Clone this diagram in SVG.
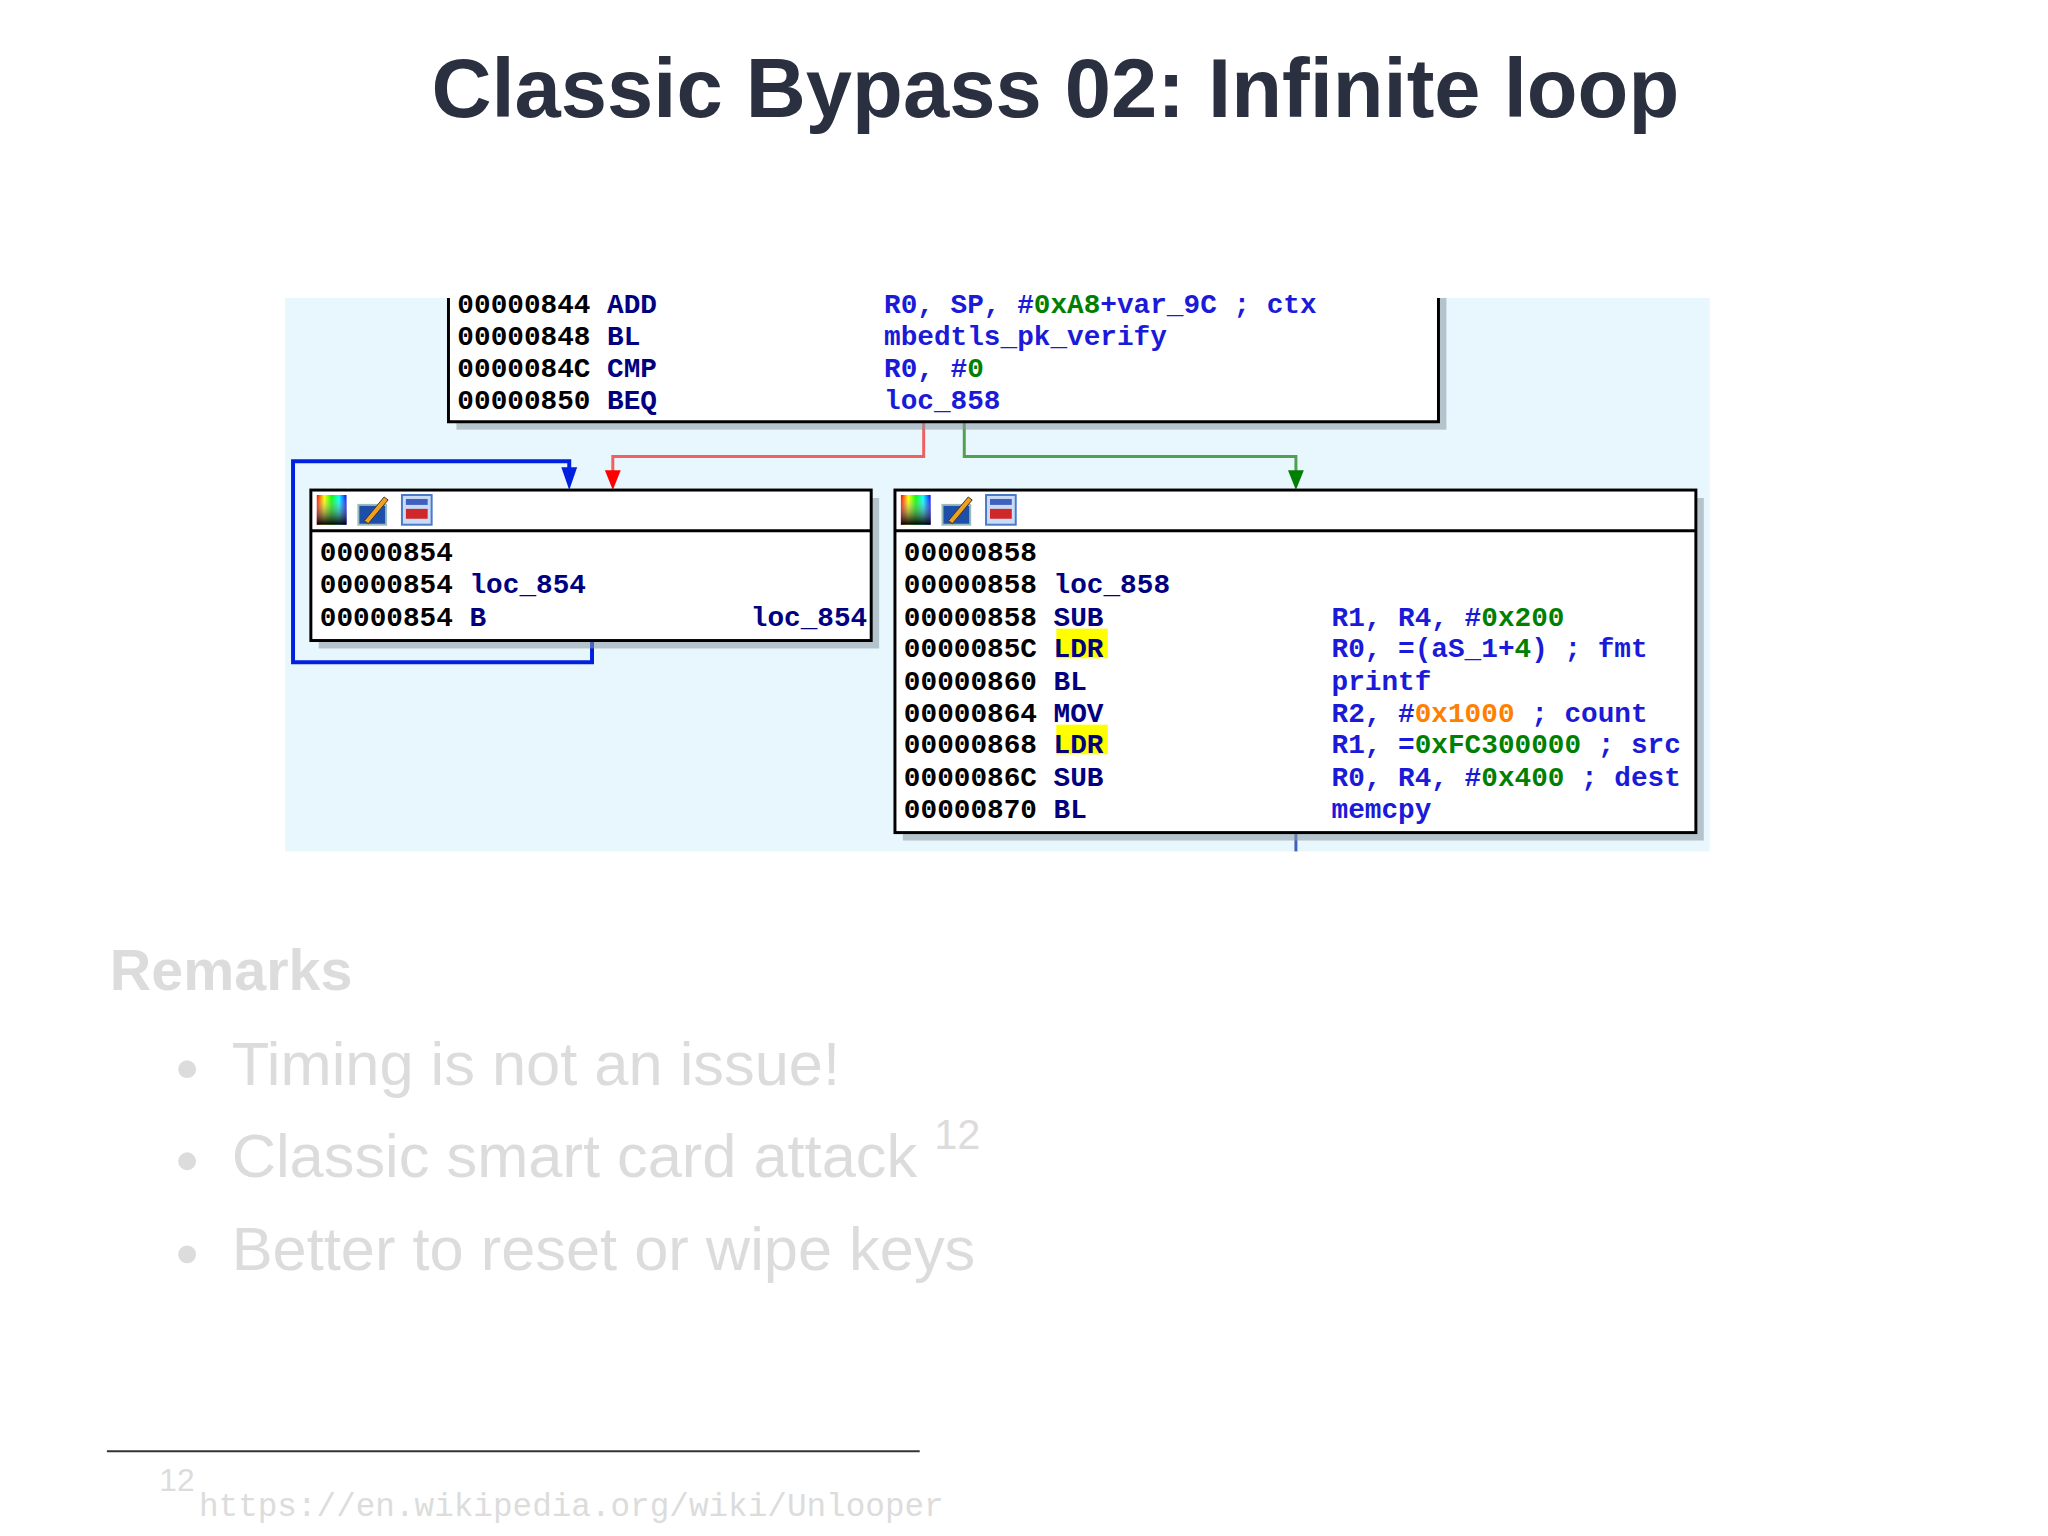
<svg xmlns="http://www.w3.org/2000/svg" width="2048" height="1536" viewBox="0 0 2048 1536">
<defs>
<style>
.t{font-family:"Liberation Mono",monospace;font-size:28px;font-weight:bold}
.a{fill:#000}.m{fill:#000080}.o{fill:#1a1ad8}.g{fill:#008000}.or{fill:#ff8000}
.box{fill:#fff;stroke:#000;stroke-width:3}
.sh{fill:#8a9aa4;opacity:.55}
.rem{font-family:"Liberation Sans",Arial,sans-serif;fill:#dcdcdc}
</style>
<linearGradient id="rb" x1="0" y1="0" x2="1" y2="0">
<stop offset="0" stop-color="#f00"/><stop offset=".25" stop-color="#ff0"/><stop offset=".5" stop-color="#0f0"/><stop offset=".75" stop-color="#0ff"/><stop offset="1" stop-color="#00f"/>
</linearGradient>
<linearGradient id="dk" x1="0" y1="0" x2="0" y2="1"><stop offset="0" stop-color="#fff" stop-opacity="0"/><stop offset="1" stop-color="#000"/></linearGradient>
<g id="icons">
<rect x="0" y="0" width="30" height="30" fill="url(#rb)"/><rect x="0" y="0" width="30" height="30" fill="url(#dk)"/>
<rect x="42" y="10" width="28" height="20" fill="#1d4fa8" stroke="#9bb" stroke-width="2"/><path d="M48 26 L68 2 L72 5 L52 29 Z" fill="#f0a020" stroke="#333" stroke-width="1"/>
<rect x="86" y="0" width="30" height="30" fill="#c8dcf8" stroke="#4a7ac8" stroke-width="2"/><rect x="90" y="14" width="22" height="10" fill="#d02828"/><rect x="90" y="4" width="22" height="6" fill="#4060c0"/>
</g>
</defs>
<rect width="2048" height="1536" fill="#fff"/>
<g transform="scale(0.99)">
<text x="1066" y="118" text-anchor="middle" font-family="Liberation Sans,Arial,sans-serif" font-weight="bold" font-size="84" fill="#2b3040">Classic Bypass 02: Infinite loop</text>

<g id="screenshot">
<rect x="288" y="301" width="1439" height="559" fill="#e8f6fd"/>
</g>

<g id="connectors" fill="none">
<polyline points="598,647 598,669 296,669 296,466 575,466 575,477" stroke="#0020e0" stroke-width="4"/>
<path d="M567 472 L583 472 L575 495 Z" fill="#0020e0"/>
<polyline points="933,426 933,461 619,461 619,480" stroke="#f06060" stroke-width="3"/>
<path d="M611 475 L627 475 L619 495 Z" fill="#f00"/>
<polyline points="974,426 974,461 1309,461 1309,480" stroke="#50a050" stroke-width="3"/>
<path d="M1301 475 L1317 475 L1309 495 Z" fill="#008000"/>
<line x1="1309" y1="841" x2="1309" y2="860" stroke="#4060c0" stroke-width="3"/>
</g>

<g id="top-block">
<rect class="sh" x="461" y="301" width="1000" height="133"/>
<path d="M453 301 L453 426 L1453 426 L1453 301" class="box"/>
<text class="t a" x="462" y="316">00000844 <tspan class="m">ADD</tspan></text>
<text class="t o" x="893" y="316">R0, SP, #<tspan class="g">0xA8</tspan>+var_9C ; ctx</text>
<text class="t a" x="462" y="348">00000848 <tspan class="m">BL</tspan></text>
<text class="t o" x="893" y="348">mbedtls_pk_verify</text>
<text class="t a" x="462" y="381">0000084C <tspan class="m">CMP</tspan></text>
<text class="t o" x="893" y="381">R0, #<tspan class="g">0</tspan></text>
<text class="t a" x="462" y="413">00000850 <tspan class="m">BEQ</tspan></text>
<text class="t o" x="893" y="413">loc_858</text>
</g>

<g id="left-block">
<rect class="sh" x="322" y="503" width="566" height="152"/>
<rect class="box" x="314" y="495" width="566" height="152"/>
<line x1="314" y1="536" x2="880" y2="536" stroke="#000" stroke-width="3"/>
<use href="#icons" x="320" y="500"/>
<text class="t a" x="323" y="567">00000854</text>
<text class="t a" x="323" y="599">00000854 <tspan class="m">loc_854</tspan></text>
<text class="t a" x="323" y="632">00000854 <tspan class="m">B</tspan></text>
<text class="t m" x="876" y="632" text-anchor="end">loc_854</text>
</g>

<g id="right-block">
<rect class="sh" x="912" y="503" width="809" height="346"/>
<rect class="box" x="904" y="495" width="809" height="346"/>
<line x1="904" y1="536" x2="1713" y2="536" stroke="#000" stroke-width="3"/>
<use href="#icons" x="910" y="500"/>
<rect x="1067" y="635" width="52" height="30" fill="#ffff00"/>
<rect x="1067" y="732" width="52" height="30" fill="#ffff00"/>
<text class="t a" x="913" y="567">00000858</text>
<text class="t a" x="913" y="599">00000858 <tspan class="m">loc_858</tspan></text>
<text class="t a" x="913" y="632">00000858 <tspan class="m">SUB</tspan></text>
<text class="t o" x="1345" y="632">R1, R4, #<tspan class="g">0x200</tspan></text>
<text class="t a" x="913" y="664">0000085C <tspan class="m">LDR</tspan></text>
<text class="t o" x="1345" y="664">R0, =(aS_1+<tspan class="g">4</tspan>) ; fmt</text>
<text class="t a" x="913" y="697">00000860 <tspan class="m">BL</tspan></text>
<text class="t o" x="1345" y="697">printf</text>
<text class="t a" x="913" y="729">00000864 <tspan class="m">MOV</tspan></text>
<text class="t o" x="1345" y="729">R2, #<tspan class="or">0x1000</tspan> ; count</text>
<text class="t a" x="913" y="761">00000868 <tspan class="m">LDR</tspan></text>
<text class="t o" x="1345" y="761">R1, =<tspan class="g">0xFC300000</tspan> ; src</text>
<text class="t a" x="913" y="794">0000086C <tspan class="m">SUB</tspan></text>
<text class="t o" x="1345" y="794">R0, R4, #<tspan class="g">0x400</tspan> ; dest</text>
<text class="t a" x="913" y="826">00000870 <tspan class="m">BL</tspan></text>
<text class="t o" x="1345" y="826">memcpy</text>
</g>

<g id="remarks">
<text class="rem" x="111" y="1000" font-size="58" font-weight="bold">Remarks</text>
<circle cx="189" cy="1080" r="9" fill="#dcdcdc"/>
<text class="rem" x="234" y="1096" font-size="62">Timing is not an issue!</text>
<circle cx="189" cy="1173" r="9" fill="#dcdcdc"/>
<text class="rem" x="234" y="1189" font-size="62">Classic smart card attack <tspan font-size="42" dy="-28">12</tspan></text>
<circle cx="189" cy="1267" r="9" fill="#dcdcdc"/>
<text class="rem" x="234" y="1283" font-size="62">Better to reset or wipe keys</text>
</g>

<g id="footnote">
<line x1="108" y1="1466" x2="929" y2="1466" stroke="#333" stroke-width="2"/>
<text class="rem" x="161" y="1506" font-size="32">12</text>
<text x="201" y="1531" font-family="Liberation Mono,monospace" font-size="33" fill="#dcdcdc">https://en.wikipedia.org/wiki/Unlooper</text>
</g>
</g>
</svg>
